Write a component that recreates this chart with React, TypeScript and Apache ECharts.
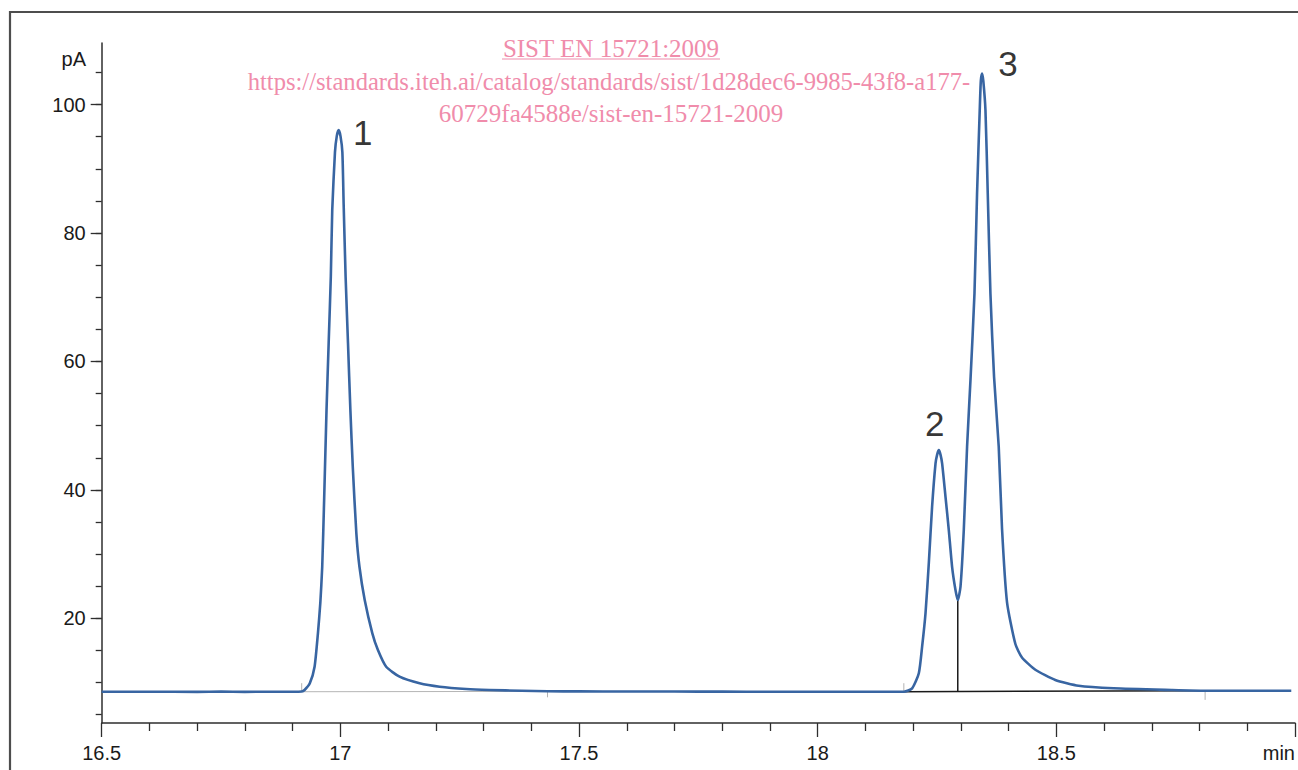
import React, { useEffect, useRef } from "react";
import * as echarts from "echarts";

// ---- Data ----
const curveTime = [
  16.5, 16.6, 16.7, 16.75, 16.8, 16.85, 16.9, 16.919, 16.925, 16.936, 16.946, 16.953, 16.958, 16.962,
  16.966, 16.971, 16.9755, 16.98, 16.983, 16.9887, 16.9925, 16.9964, 17.0003, 17.0042, 17.0069,
  17.011, 17.016, 17.021, 17.026, 17.0335, 17.04, 17.051, 17.067, 17.0787, 17.096, 17.124, 17.166,
  17.208, 17.2636, 17.312, 17.38, 17.434, 17.5, 17.6, 17.7, 17.8, 17.9, 18.0, 18.1, 18.1805,
  18.1979, 18.2119, 18.2188, 18.2259, 18.2328, 18.2397, 18.2469, 18.2503, 18.2538, 18.2573,
  18.2607, 18.2678, 18.2747, 18.2816, 18.2887, 18.2935, 18.2992, 18.3061, 18.313, 18.3201,
  18.3285, 18.3339, 18.3395, 18.3418, 18.3444, 18.347, 18.3515, 18.3563, 18.3619, 18.3695,
  18.3793, 18.3862, 18.3967, 18.4142, 18.428, 18.456, 18.4978, 18.5466, 18.62,
  18.7412, 18.8117, 18.9, 18.9922,
];
const curveSignal = [
  8.57, 8.57, 8.55, 8.6, 8.55, 8.57, 8.57, 8.6, 8.84, 9.88, 12.46, 17.66, 22.4, 28.03,
  38.42, 52.43, 62.87, 73.19, 83.57, 92.6, 95.1, 96.03, 95.1, 92.6, 84.5,
  73.19, 62.87, 52.43, 43.6, 33.23, 28.03, 22.85, 17.66, 15.06, 12.46, 10.91, 9.88,
  9.35, 8.99, 8.84, 8.72, 8.65, 8.62, 8.6, 8.6, 8.58, 8.57, 8.57, 8.57, 8.57,
  9.1, 11.44, 15.58, 20.78, 28.56, 37.38, 44.13, 45.5, 46.2, 45.5,
  44.13, 38.93, 33.75, 28.03, 24.41, 22.85, 24.92, 33.75, 46.72, 57.1,
  70.6, 86.17, 99.14, 103.7, 104.86, 103.7, 99.14, 86.17, 70.6, 57.62,
  46.72, 34.0, 22.5, 16.0, 13.9, 12.0, 10.4, 9.5, 9.1,
  8.84, 8.73, 8.73, 8.73,
];

// peaks: names, apex times and apex heights
const peakNames = ["1", "2", "3"];
const peakTimes = [16.9964, 18.2538, 18.3444];
const peakHeights = [96.03, 46.2, 104.86];

// integration baselines
const baselinePeak1 = [[16.919, 8.57], [17.434, 8.62]];
const baselinePeak23 = [[18.1805, 8.57], [18.8117, 8.73]];
const dropLine = [[18.2935, 8.62], [18.2935, 22.85]];
// integration markers: [time, from, to]
const markerTicks = [
  [16.919, 8.57, 9.9],
  [17.434, 8.62, 7.7],
  [18.1805, 8.57, 9.9],
  [18.8117, 8.73, 7.3],
];

const xTickStep = 0.5;
const yLabelValues = [20, 40, 60, 80, 100];
const yMinorValues = [5, 10, 15, 20, 25, 30, 35, 40, 45, 50, 55, 60, 65, 70, 75, 80, 85, 90, 95, 100, 105];

const watermarkTitle = "SIST EN 15721:2009";
const watermarkLine1 = "https://standards.iteh.ai/catalog/standards/sist/1d28dec6-9985-43f8-a177-";
const watermarkLine2 = "60729fa4588e/sist-en-15721-2009";

// ---- Styles ----
const SANS = "'Liberation Sans', Arial, Helvetica, sans-serif";
const SERIF = "'Liberation Serif', 'Times New Roman', serif";
const AXIS_COLOR = "#2e2e2e";
const LINE_COLOR = "#3865a2";
const PINK = "#f08cab";
const peakLabelOffsets = [[24, 2], [-4, -27], [26, -10]];

export default function App() {
  const ref = useRef<HTMLDivElement>(null);

  useEffect(() => {
    const chart = echarts.init(ref.current as HTMLDivElement, null, { renderer: "svg" });

    const curve = curveTime.map((t, i) => [t, curveSignal[i]]);
    const peaks = peakNames.map((n, i) => ({
      name: n,
      value: [peakTimes[i], peakHeights[i]],
      label: { offset: peakLabelOffsets[i] },
    }));

    const markerSeries = markerTicks.map((m) => ({
      type: "line",
      data: [[m[0], m[1]], [m[0], m[2]]],
      showSymbol: false,
      symbol: "none",
      lineStyle: { color: "#b3b3b3", width: 1 },
      silent: true,
      z: 1,
    }));

    const option: any = {
      animation: false,
      backgroundColor: "#ffffff",
      grid: { left: 101.7, right: 2.5, top: 43, bottom: 47, containLabel: false },
      xAxis: {
        type: "value",
        min: 16.5,
        max: 19,
        interval: xTickStep,
        axisLine: { show: true, lineStyle: { color: AXIS_COLOR, width: 1.5 } },
        axisTick: { show: true, length: 14, lineStyle: { color: AXIS_COLOR, width: 1.3 } },
        minorTick: { show: true, splitNumber: 5, length: 8, lineStyle: { color: AXIS_COLOR, width: 1.3 } },
        splitLine: { show: false },
        axisLabel: {
          margin: 20,
          fontSize: 20,
          fontFamily: SANS,
          color: "#1a1a1a",
          alignMaxLabel: "right",
          formatter: (v: number) => (Math.abs(v - 19) < 1e-9 ? "min" : String(v)),
        },
      },
      yAxis: [
        {
          type: "value",
          min: 3.7,
          max: 109.6,
          axisLine: { show: true, lineStyle: { color: AXIS_COLOR, width: 1.5 } },
          axisTick: { show: true, length: 11, customValues: yLabelValues, lineStyle: { color: AXIS_COLOR, width: 1.3 } },
          axisLabel: {
            customValues: yLabelValues,
            margin: 16,
            fontSize: 20,
            fontFamily: SANS,
            color: "#1a1a1a",
          },
          splitLine: { show: false },
        },
        {
          type: "value",
          min: 3.7,
          max: 109.6,
          position: "left",
          offset: 0,
          axisLine: { show: false },
          axisTick: { show: true, length: 6, customValues: yMinorValues, lineStyle: { color: AXIS_COLOR, width: 1.3 } },
          axisLabel: { show: false },
          splitLine: { show: false },
        },
      ],
      graphic: [
        {
          type: "rect",
          silent: true,
          shape: { x: 10, y: 12, width: 1300, height: 780 },
          style: { fill: "none", stroke: "#4d4d4d", lineWidth: 2.2 },
        },
        {
          type: "text",
          silent: true,
          x: 86,
          y: 59,
          style: { text: "pA", fontSize: 20, fontFamily: SANS, fill: "#1a1a1a", align: "right", verticalAlign: "middle" },
        },
        {
          type: "text",
          silent: true,
          x: 611,
          y: 48,
          style: { text: watermarkTitle, fontSize: 25, fontFamily: SERIF, fill: PINK, align: "center", verticalAlign: "middle" },
        },
        {
          type: "line",
          silent: true,
          shape: { x1: 502, y1: 59, x2: 720, y2: 59 },
          style: { stroke: PINK, lineWidth: 1.2 },
        },
        {
          type: "text",
          silent: true,
          x: 609,
          y: 81,
          style: { text: watermarkLine1, fontSize: 24.6, fontFamily: SERIF, fill: PINK, align: "center", verticalAlign: "middle" },
        },
        {
          type: "text",
          silent: true,
          x: 611,
          y: 113,
          style: { text: watermarkLine2, fontSize: 25, fontFamily: SERIF, fill: PINK, align: "center", verticalAlign: "middle" },
        },
      ],
      series: [
        {
          type: "line",
          data: baselinePeak1,
          showSymbol: false,
          symbol: "none",
          lineStyle: { color: "#b5b5b5", width: 1 },
          silent: true,
          z: 1,
        },
        {
          type: "line",
          data: baselinePeak23,
          showSymbol: false,
          symbol: "none",
          lineStyle: { color: "#1a1a1a", width: 1.5 },
          silent: true,
          z: 1,
        },
        {
          type: "line",
          data: dropLine,
          showSymbol: false,
          symbol: "none",
          lineStyle: { color: "#1a1a1a", width: 1.5 },
          silent: true,
          z: 1,
        },
        ...markerSeries,
        {
          type: "line",
          data: curve,
          showSymbol: false,
          symbol: "none",
          smooth: 0.2,
          lineStyle: { color: LINE_COLOR, width: 2.6, join: "round" },
          silent: true,
          z: 3,
        },
        {
          type: "scatter",
          data: peaks,
          symbolSize: 0,
          silent: true,
          z: 4,
          label: {
            show: true,
            position: "inside",
            formatter: (p: any) => p.name,
            fontSize: 35,
            fontFamily: SANS,
            color: "#000000",
          },
        },
      ],
    };

    chart.setOption(option);
    return () => chart.dispose();
  }, []);

  return (
    <div
      ref={ref}
      style={{ position: "fixed", left: 0, top: 0, width: 1298, height: 770, background: "#ffffff" }}
    />
  );
}
